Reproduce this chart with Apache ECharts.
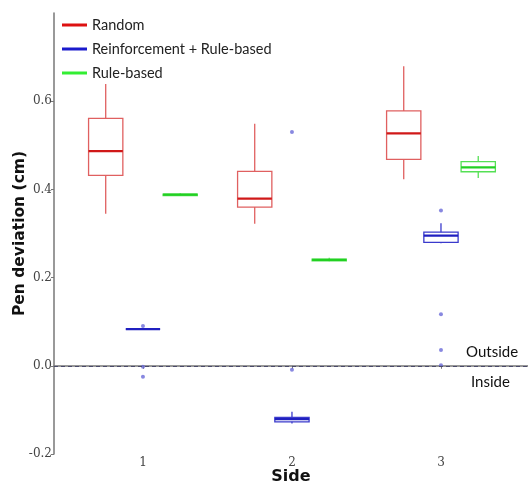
<!DOCTYPE html>
<html>
<head>
<meta charset="utf-8">
<script src="https://cdn.jsdelivr.net/npm/echarts@6/dist/echarts.min.js"></script>
<style>
  html, body { margin: 0; padding: 0; background: #fff; }
  #chart { width: 528px; height: 484px; }
</style>
</head>
<body>
<div id="chart"></div>
<script>
// sides on the x axis
const sides = [1, 2, 3]
const seriesNames = ['Random', 'Reinforcement + Rule-based', 'Rule-based']
// box stats per side: [min, q1, median, q3, max]
const randomStats = [
  [0.345, 0.432, 0.487, 0.561, 0.639],
  [0.322, 0.360, 0.379, 0.441, 0.549],
  [0.423, 0.468, 0.527, 0.578, 0.679]
]
const reinforcementStats = [
  [0.083, 0.083, 0.083, 0.083, 0.083],
  [-0.131, -0.127, -0.121, -0.117, -0.104],
  [0.278, 0.280, 0.295, 0.303, 0.323]
]
const ruleStats = [
  [0.386, 0.386, 0.388, 0.389, 0.391],
  [0.237, 0.238, 0.240, 0.242, 0.245],
  [0.426, 0.440, 0.450, 0.463, 0.476]
]
// outliers: [side, value]
const reinforcementOutliers = [
  [1, 0.090], [1, -0.002], [1, -0.025],
  [2, 0.530], [2, -0.009],
  [3, 0.352], [3, 0.117], [3, 0.036], [3, 0.001]
]
const yTicks = [-0.2, 0.0, 0.2, 0.4, 0.6]

const offsets = [-0.25, 0, 0.25]
const edgeColors = ['#e06060', '#3a3acc', '#55e055']
const medianColors = ['#d01818', '#2020c0', '#22d022']
const legendColors = ['#dd1111', '#1a1acc', '#33ee33']
const boxWidthUnits = 0.23

function boxSeries(name, stats, idx) {
  const data = stats.map((s, i) => [sides[i] + offsets[idx]].concat(s))
  return {
    name: name,
    type: 'custom',
    itemStyle: { color: legendColors[idx] },
    encode: { x: 0, y: [1, 2, 3, 4, 5] },
    data: data,
    z: 3,
    renderItem: function (params, api) {
      const x = api.value(0)
      const w = api.size([boxWidthUnits, 0])[0]
      const pMin = api.coord([x, api.value(1)])
      const pQ1 = api.coord([x, api.value(2)])
      const pMed = api.coord([x, api.value(3)])
      const pQ3 = api.coord([x, api.value(4)])
      const pMax = api.coord([x, api.value(5)])
      const cx = pMin[0]
      const edge = { stroke: edgeColors[idx], lineWidth: 1.3, fill: null }
      return {
        type: 'group',
        children: [
          { type: 'line', shape: { x1: cx, y1: pMax[1], x2: cx, y2: pQ3[1] }, style: edge },
          { type: 'line', shape: { x1: cx, y1: pQ1[1], x2: cx, y2: pMin[1] }, style: edge },
          { type: 'rect', shape: { x: cx - w / 2, y: pQ3[1], width: w, height: pQ1[1] - pQ3[1] }, style: edge },
          { type: 'line', shape: { x1: cx - w / 2, y1: pMed[1], x2: cx + w / 2, y2: pMed[1] },
            style: { stroke: medianColors[idx], lineWidth: 2.2 } }
        ]
      }
    }
  }
}

const chart = echarts.init(document.getElementById('chart'))
chart.setOption({
  animation: false,
  backgroundColor: '#fff',
  grid: { left: 54, top: 13, right: 0, bottom: 30, containLabel: false, outerBoundsMode: 'none' },
  legend: {
    orient: 'vertical',
    left: 62,
    top: 15,
    padding: 0,
    itemWidth: 25,
    itemHeight: 3,
    itemGap: 4,
    icon: 'rect',
    textStyle: { fontFamily: 'Lato', fontSize: 14.5, color: '#222', lineHeight: 20 },
    data: seriesNames
  },
  xAxis: {
    type: 'value',
    min: 0.403,
    max: 3.584,
    name: 'Side',
    nameLocation: 'middle',
    nameGap: 15,
    nameMoveOverlap: false,
    nameTextStyle: { fontFamily: 'DejaVu Sans', fontWeight: 'bold', fontSize: 16, color: '#111' },
    splitLine: { show: false },
    axisLine: { lineStyle: { color: '#777', width: 1.5 } },
    axisTick: { show: true, length: 3, lineStyle: { color: '#777' }, customValues: sides },
    axisLabel: {
      customValues: sides,
      margin: 3,
      fontFamily: 'DejaVu Serif', fontSize: 12, color: '#444'
    }
  },
  yAxis: {
    type: 'value',
    min: -0.2,
    max: 0.8,
    interval: 0.2,
    name: 'Pen deviation (cm)',
    nameLocation: 'middle',
    nameGap: 26,
    nameMoveOverlap: false,
    nameTextStyle: { fontFamily: 'DejaVu Sans', fontWeight: 'bold', fontSize: 15.5, color: '#111' },
    splitLine: { show: false },
    axisLine: { show: true, lineStyle: { color: '#777', width: 1.5 } },
    axisTick: { show: true, length: 3, lineStyle: { color: '#777' }, customValues: yTicks },
    axisLabel: {
      customValues: yTicks,
      margin: 2,
      formatter: v => v.toFixed(1),
      fontFamily: 'DejaVu Serif', fontSize: 12, color: '#444'
    }
  },
  graphic: [
    { type: 'text', left: 466, top: 345, style: { text: 'Outside', fontFamily: 'Lato', fontSize: 15, fill: '#111' } },
    { type: 'text', left: 471, top: 375, style: { text: 'Inside', fontFamily: 'Lato', fontSize: 15, fill: '#111' } }
  ],
  series: [
    boxSeries(seriesNames[0], randomStats, 0),
    boxSeries(seriesNames[1], reinforcementStats, 1),
    boxSeries(seriesNames[2], ruleStats, 2),
    {
      name: 'outliers',
      type: 'scatter',
      symbolSize: 4,
      itemStyle: { color: '#6a6ad8' },
      data: reinforcementOutliers.map(p => [p[0] + offsets[1], p[1]]),
      z: 4,
      markLine: {
        silent: true,
        symbol: 'none',
        label: { show: false },
        lineStyle: { color: '#4a4a6a', type: [4, 3], width: 1 },
        data: [{ yAxis: 0 }]
      }
    }
  ]
})
</script>
</body>
</html>
